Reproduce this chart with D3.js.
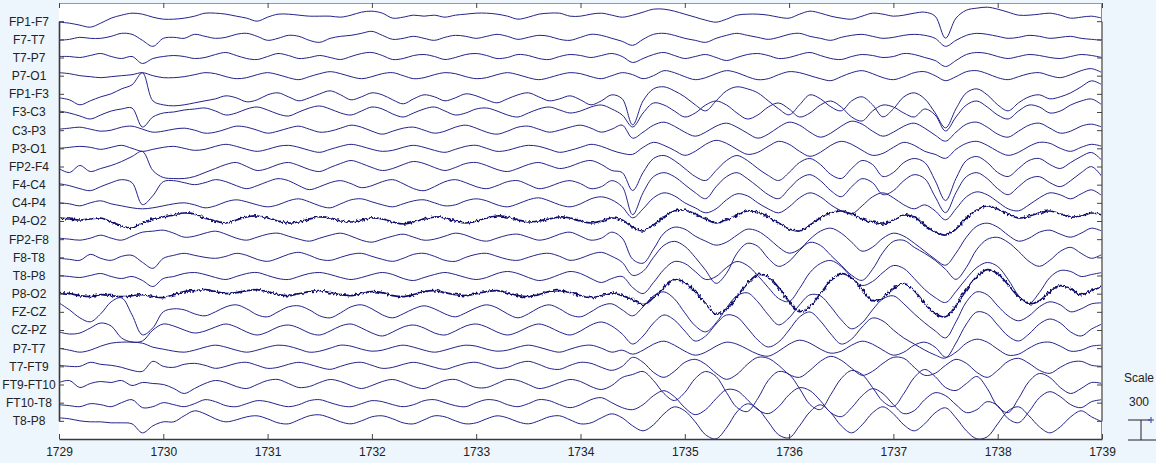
<!DOCTYPE html>
<html>
<head>
<meta charset="utf-8">
<script src="https://cdn.jsdelivr.net/npm/d3@7"></script>
<style>
  html, body { margin: 0; padding: 0; background: #edf5fd; }
  svg { display: block; }
  text { font-family: "Liberation Sans", Arial, sans-serif; fill: #222; }
</style>
</head>
<body>
<svg id="chart" width="1156" height="463"></svg>
<script>
// Montage labels, top to bottom
const channelNames = ["FP1-F7","F7-T7","T7-P7","P7-O1","FP1-F3","F3-C3","C3-P3","P3-O1",
  "FP2-F4","F4-C4","C4-P4","P4-O2","FP2-F8","F8-T8","T8-P8","P8-O2","FZ-CZ","CZ-PZ",
  "P7-T7","T7-FT9","FT9-FT10","FT10-T8","T8-P8"];

// Time axis (seconds)
const secondTicks = [1729,1730,1731,1732,1733,1734,1735,1736,1737,1738,1739];
const startTime = 1729;
const samplesPerSecond = 10;

// Amplitude scale reference (µV)
const scaleValue = 300;

// Traces in µV, 10 samples per second
const fp1_f7 = [-15,-30,-60,-90,-30,45,90,120,105,60, 30,30,45,75,120,120,105,75,45,0, 60,105,105,90,75,75,75,60,90,135, 150,120,45,60,90,75,90,60,90,105, 120,120,105,75,30,60,105,120,120,75, 75,105,120,90,60,90,135,180,180,150, 105,60,15,-15,30,90,105,105,90,60, 45,105,150,120,75,45,30,75,120,105, 75,90,120,135,75,-255,45,165,195,210, 180,135,90,90,105,120,90,45,60,75, 45];
const f7_t7 = [-15,0,30,15,15,45,90,75,-15,-105, 15,30,15,75,45,15,30,75,90,45, -15,15,60,45,-15,-45,15,45,60,90, 120,60,0,15,45,15,-15,30,60,45, 15,45,75,45,0,30,60,45,0,-15, 30,75,60,15,-30,-90,0,75,90,60, 15,-15,-45,15,60,90,60,30,0,30, 75,90,45,15,-15,30,60,75,45,15, 30,60,75,60,15,-105,-15,60,90,75, 45,15,30,60,45,15,30,45,15,0, -15];
const t7_p7 = [15,15,0,30,60,15,-15,15,-90,-15, 15,30,15,-15,0,45,75,30,-15,-30, 15,60,30,-15,0,30,0,-30,15,60, 75,30,-30,-15,30,45,15,-30,0,45, 60,30,-15,0,45,30,-15,-30,15,45, 30,0,30,60,15,-75,-15,45,75,30, -15,15,45,0,-45,0,45,60,30,-15, 0,45,75,30,-15,-30,15,45,30,0, 15,60,45,0,-45,-135,-45,45,75,60, 15,-15,15,45,30,0,-15,15,45,30, 0];
const p7_o1 = [45,30,0,-15,-30,-15,0,15,45,0, -30,-30,-15,15,45,30,-15,-45,-30,15, 45,15,-30,-60,-15,30,60,30,-15,-45, -15,30,45,0,-45,-30,15,45,30,-15, -45,-30,15,45,15,-30,-60,-30,15,45, 30,-15,-45,0,45,15,-45,0,75,45, -15,-60,-30,30,75,45,-15,-60,-45,15, 60,45,0,-45,-75,-15,45,75,30,-30, -60,-15,45,60,0,-75,-15,60,75,30, -30,-60,-15,30,45,0,-30,15,75,105, 45];
const fp1_f3 = [-60,-90,-165,-105,-45,0,75,135,315,-105, -165,-180,-165,-135,-105,-75,-30,-60,-120,-90, -15,15,-45,-105,-60,0,45,-15,-90,-45, 15,-15,-90,-150,-75,-15,-45,-105,-60,0, -30,-90,-135,-75,-15,15,-45,-105,-75,-30, -90,-165,-105,-15,-75,-465,-105,75,105,45, -45,-165,-255,-105,45,105,75,15,-105,-225, -315,-165,-15,-75,-195,-255,-105,-45,-165,-345, -225,-45,15,-75,-285,-510,-225,15,75,-15, -165,-255,-135,-45,-15,-75,-45,15,105,195, 135];
const f3_c3 = [15,-15,-60,-105,-45,15,45,60,-225,-75, -15,0,30,45,60,15,-45,-15,45,75, 30,-30,-60,0,60,90,45,-15,-45,15, 75,45,-30,-75,-15,45,75,15,-45,-15, 45,60,15,-45,-75,-15,45,75,30,-15, 15,75,105,45,-45,-225,-15,135,105,15, -75,-15,105,165,105,-15,-105,-45,75,135, 45,-75,-15,105,165,75,-75,-135,15,105, 75,-15,-75,45,-45,-285,-75,105,165,75, -45,-105,15,105,75,-15,15,105,165,195, 105];
const c3_p3 = [15,30,45,15,-15,0,45,60,15,-30, -15,15,30,0,-45,-30,15,60,45,0, -45,-15,30,60,15,-30,-15,30,75,45, -15,-60,-15,30,45,0,-45,-15,45,75, 30,-30,-60,-15,45,60,15,-30,0,45, 75,30,-30,15,75, -120,-30,75,120,60, -30,-90,-30,60,105, 45,-45,-120,-60,45, 120,75,-30,-105,-45, 60,135,90,-15,-90, -30,60,105,30,-75, -165,-30,90,120,45, -60,-105,-15,75,105, 30,-45,-15,60,90, 45];
const p3_o1 = [0,15,30,15,-15,15,45,0,-45,-15, 15,30,0,-30,-15,30,60,30,-15,-45, -15,30,45,15,-30,-60,-15,30,60,30, -15,-45,-30,15,45,15,-30,-60,-15,30, 45,0,-45,-30,15,45,30,-15,-60,-30, 15,60,30,-30,-75, -90,15,90,45,-30, -105,-45,60,120,75, -15,-90,-60,30,105, 60,-45,-120,-60,45, 105,60,-30,-105,-75, 15,90,45,-45,-90, -150,-15,75,105,45, -45,-105,-60,30,90, 75,0,-45,15,60, 30];
const fp2_f4 = [-30,-90,15,-75,-30,15,75,150,225,-60, -165,-180,-180,-150,-90,-30,30,60,0,-60, -30,30,60,15,-45,-75,-15,45,90,45, -15,-60,-30,30,75,45,-15,-60,-15,45, 60,15,-45,-75,-30,30,60,15,-30,0, 60,90,30,-60,-90,-360,-90,120,165,90, -30,-150,-210,-60,90,165,90,-30,-135,-210, -90,60,120,30,-120,-180,-30,90,30,-150, -90,60,120,60,-210,-510,-180,90,150,60, -90,-150,-30,90,120,30,-30,60,150,210, 90];
const f4_c4 = [15,-15,-60,-90,-30,30,75,30,-300,-165, 45,60,30,0,30,75,45,-15,-60,-15, 45,90,60,-15,-75,-30,30,60,15,-45, -15,45,75,15,-60,-90,-30,45,75,30, -30,-60,-15,45,60,0,-60,-30,30,60, 15,-60,-30,60,-30,-450,-120,120,180,120, 0,-120,-210,-30,120,180,90,-30,-150,-210, -60,90,150,60,-90,-180,-30,90,30,-150, -90,60,150,90,-180,-420,-120,120,180,90, -60,-150,-30,90,120,30,-30,60,180,270, 120];
const c4_p4 = [0,-15,-45,0,30,-15,-45,-75,-90,-75, -45,-15,0,-30,-75,-45,15,45,15,-30, -60,-30,30,60,15,-45,-75,-15,45,60, 15,-30,-60,-15,30,45,0,-45,-30,30, 60,30,-30,-60,-15,45,75,30,-30,-60, -15,60,90,45,-60, -225,-90,75,150,105, 0,-75,-150,-90,45, 135,105,0,-90,-150, -60,75,150,90,-30, -120,-165,-45,90,150, 75,-30,-90,-30,-120, -255,-90,90,165,120, 15,-90,-120,-30,75, 150,120,60,135,195, 105];
const p4_o2 = [45,30,15,30,45,-15,-75,-105,-30,30, 60,90,120,105,45,0,-30,15,60,75, 45,0,-30,-15,30,60,45,0,-15,15, 45,30,-15,-45,-15,30,60,45,0,-30, 0,45,75,60,15,-15,0,30,60,45, 0,-30,0,45,15, -90,-150,-60,60,150, 165,105,30,-30,15, 90,150,135,60,-30, -120,-150,-60,45,120, 150,105,30,-15,-45, 15,90,60,-60,-165, -210,-120,45,165,225, 180,105,45,75,120, 150,105,60,75,120, 90];
const fp2_f8 = [15,0,-15,15,60,15,-15,45,105,120, 135,90,30,45,90,120,75,15,-15,30, 75,90,45,0,-30,15,60,90,45,-15, -45,0,45,75,30,-15,0,45,90,60, 0,-30,15,60,75,30,-15,15,75,105, 45,-15,15,105,15, -300,-360,-150,90,180, 150,45,-30,-90,-45, 60,150,120,15,-120, -210,-150,0,120,165, 90,-45,-180,-120,15, 90,45,-60,-180,-300, -390,-210,30,195,240, 180,60,-30,15,105, 135,75,30,90,165, 120];
const f8_t8 = [-15,-30,-45,45,-15,-45,15,30,-75,-165, -15,30,60,30,0,-15,15,60,30,-30, -60,-15,45,75,30,-30,-45,0,45,60, 15,-30,-60,-15,45,60,15,-45,-60,0, 45,60,15,-30,-45,0,45,60,15,-45, -15,45,75,15,-75, -270,-210,0,180,240, 165,0,-195,-390,-240, 60,210,165,-15,-135, -60,105,225,180,30, -120,-270,-345,-180,75, 240,255,150,60,-45, -180,-330,-150,120,270, 300,225,90,-60,-135, -45,90,150,60,-15, 45];
const t8_p8 = [0,-15,-30,0,30,-15,-45,-15,-75,-165, -45,-15,30,45,15,-30,-60,-15,30,45, 0,-45,-60,-15,30,45,15,-30,-60,-30, 15,45,15,-45,-75,-30,15,45,15,-30, -60,-30,30,60,30,-30,-75,-45,15,60, 30,-45,-105,-45,-15, -180,-270,-105,90,210, 180,60,-60,-15,120, 210,150,0,-180,-345, -390,-195,45,180,225, 135,-30,-150,-90,45, 150,105,-45,-210,-330, -405,-240,-45,120,195, 135,-60,-300,-420,-255, -30,75,60,-15,15, 45];
const p8_o2 = [15,0,-30,-45,-15,-30,-45,-30,-15,-45, -60,-15,30,45,60,30,0,15,45,60, 30,-15,-30,0,30,45,15,-15,-30,0, 30,15,-30,-45,-15,30,45,15,-15,-30, 0,30,45,15,-30,-45,-15,30,45,15, -30,-60,-30,15,-30, -90,-165,-60,90,210, 165,30,-150,-300,-240, -45,150,285,255,90, -120,-270,-195,0,195, 300,240,60,-105,-60, 75,150,45,-150,-300, -345,-180,60,255,360, 300,135,-45,-150,-105, 30,120,75,-15,45, 105];
const fz_cz = [135,30,-90,-150,-30,150,210,-45,-345,-240, 0,45,30,-30,-60,0,75,105,45,-45, -75,0,75,90,30,-60,-90,-15,75,105, 45,-45,-90,-30,45,90,45,-30,-75,-15, 60,105,60,-30,-90,-30,60,105,45,-45, -75,0,90,120,30, -60,75,240,300,195, -15,-210,-300,-165,60, 240,285,150,-45,-195, -90,105,255,240,75, -120,-255,-165,30,195, 240,120,-30,-165,-285, -390,-150,150,300,255, 90,-60,-135,-60,75, 150,105,0,45,120, 135];
const cz_pz = [-30,-60,-45,30,105,60,-120,-180,-165,0, 90,60,0,-45,-15,45,90,45,-30,-75, -30,45,75,30,-45,-75,-15,60,90,30, -45,-90,-30,45,75,30,-45,-75,-15,60, 90,45,-30,-75,-30,45,90,45,-30,-75, -15,75,120,60,-60, -210,-90,105,225,150, -15,-165,-90,90,225, 195,30,-150,-255,-180, 0,195,270,135,-60, -210,-135,45,180,135, 0,-120,-210,-300,-375, -420,-195,90,270,240, 75,-90,-165,-60,90, 165,105,-30,-90,15, 90];
const p7_t7 = [0,-30,-60,-30,30,75,90,90,75,15, -15,-45,-60,-30,15,45,15,-30,-60,-30, 15,45,30,-15,-60,-45,0,45,30,-15, -45,-30,15,45,15,-30,-60,-30,15,45, 30,-15,-45,-30,15,45,15,-30,-60,-15, 30,45,0,-60,-30, -90,-30,60,105,45, -45,-105,-60,30,90, 60,-15,-90,-120,-45, 60,120,75,-15,-75, -45,45,105,60,-30, -105,-60,45,90,15, -135,-60,75,135,90, -15,-105,-90,0,75, 90,30,-45,-30,30, 45];
const t7_ft9 = [15,0,0,60,30,15,-15,-60,-75,75, 0,-15,30,45,15,-30,0,45,60,15, -30,-15,30,60,30,-15,-45,0,45,60, 15,-30,-15,30,60,30,-15,-45,0,45, 60,15,-30,-15,45,75,30,-30,-45,15, 60,45,-15,-60,0, 135,60,-90,-165,-75, 60,105,30,-105,-195, -120,30,135,120,15, -120,-165,-60,75,150, 90,-30,-135,-75,45, 135,120,-15,-135,-105, 15,105,45,-90,-165, -60,75,120,45,-60, -105,-15,60,75,15, 0];
const ft9_ft10 = [30,60,-45,15,45,30,60,-15,30,15, 0,-60,-135,-60,15,60,30,-30,-60,0, 60,75,15,-45,-30,30,75,45,-15,-60, -15,45,75,30,-30,-60,0,60,75,15, -45,-45,15,75,60,0,-60,-30,30,75, 45,-30,-75,-15,105, 150,195,60,-135,-240, -120,90,195,120,-120, -345,-405,-210,60,195, 150,-60,-300,-375,-150, 90,210,150,-45,-255, -330,-135,105,225,120, -45,-90,15,120,-60, -330,-420,-210,45,165, 105,-45,-135,-60,30, 15];
const ft10_t8 = [-30,-45,-60,-15,-30,-60,0,45,-75,-60, 0,-30,-60,-15,45,15,-45,-60,-15,30, 15,-30,-60,-30,30,45,0,-45,-60,-15, 30,15,-30,-60,-30,30,45,0,-45,-60, 0,45,30,-30,-60,-15,45,30,-30,-75, -30,45,75,0,-75, -105,-30,105,180,90, -75,-180,-105,60,195, 180,45,-105,-165,-60, 120,225,180,30,-150, -210,-75,105,210,135, -30,-165,-120,45,150, 105,-30,-150,-105,15, -45,-240,-300,-135,75, 165,90,-30,-75,15, 45];
const t8_p8_b = [45,30,0,-15,-15,-30,-30,-45,-180,-75, -15,-15,75,150,105,30,-15,15,60,75, 30,-30,-45,15,75,90,45,-15,-45,0, 60,75,30,-30,-45,15,75,60,0,-45, -30,30,75,45,-15,-45,0,60,75,15, -45,-30,45,105,45, -75,-150,-60,105,210, 150,-15,-210,-270,-105, 135,255,180,-15,-210, -255,-75,135,240,120, -75,-180,-60,120,210, 105,-60,-150,-45,120, 195,45,-150,-270,-240, -45,150,210,75,-90, -180,-90,60,150,60, -15];

const traces = [fp1_f7, f7_t7, t7_p7, p7_o1, fp1_f3, f3_c3, c3_p3, p3_o1,
  fp2_f4, f4_c4, c4_p4, p4_o2, fp2_f8, f8_t8, t8_p8, p8_o2, fz_cz, cz_pz,
  p7_t7, t7_ft9, ft9_ft10, ft10_t8, t8_p8_b];

// Channels recorded with visible high-frequency artefact
const noisyChannels = new Set([11, 15]);

const svg = d3.select("#chart");
const plot = { left: 59, right: 1102, top: 3, bottom: 439 };
const rowStep = (plot.bottom - plot.top) / (channelNames.length + 1);

const x = d3.scaleLinear().domain([secondTicks[0], secondTicks[secondTicks.length - 1]])
  .range([plot.left, plot.right]);
const rows = d3.scalePoint().domain(d3.range(channelNames.length))
  .range([plot.top + rowStep, plot.bottom - rowStep]);
const amp = d3.scaleLinear().domain([0, scaleValue]).range([0, -20]);

// Fuzzy rendering for the artefact-laden derivations
const defs = svg.append("defs");
const fuzz = defs.append("filter").attr("id", "fuzz")
  .attr("filterUnits", "userSpaceOnUse")
  .attr("x", plot.left - 10).attr("y", plot.top - 10)
  .attr("width", plot.right - plot.left + 20).attr("height", plot.bottom - plot.top + 20);
fuzz.append("feTurbulence").attr("type", "fractalNoise")
  .attr("baseFrequency", "0.55 0.25").attr("numOctaves", 1).attr("seed", 3).attr("result", "n");
fuzz.append("feDisplacementMap").attr("in", "SourceGraphic").attr("in2", "n")
  .attr("scale", 4.5).attr("xChannelSelector", "R").attr("yChannelSelector", "G");

// Plot background
svg.append("rect")
  .attr("x", plot.left).attr("y", plot.top)
  .attr("width", plot.right - plot.left).attr("height", plot.bottom - plot.top)
  .attr("fill", "#ffffff");

defs.append("clipPath").attr("id", "plot-clip")
  .append("rect")
  .attr("x", plot.left + 1).attr("y", plot.top + 1)
  .attr("width", plot.right - plot.left - 1).attr("height", plot.bottom - plot.top - 1);

// Traces
const traceLayer = svg.append("g").attr("clip-path", "url(#plot-clip)");
traces.forEach((values, ch) => {
  const base = rows(ch);
  const noisy = noisyChannels.has(ch);
  const line = d3.line()
    .x((v, i) => x(startTime + i / samplesPerSecond))
    .y(v => base + amp(v))
    .curve(d3.curveCatmullRom.alpha(0.5));
  const holder = noisy ? traceLayer.append("g").attr("filter", "url(#fuzz)") : traceLayer;
  holder.append("path")
    .datum(values)
    .attr("d", line)
    .attr("fill", "none")
    .attr("stroke", noisy ? "#0e0e6c" : "#22228a")
    .attr("stroke-width", noisy ? 1.7 : 1)
    .attr("stroke-linejoin", "round");
});

// Frame: darker left/bottom edges, lighter top/right edges
svg.append("line").attr("x1", plot.left).attr("x2", plot.right)
  .attr("y1", plot.top + 0.5).attr("y2", plot.top + 0.5).attr("stroke", "#9a9a9a");
svg.append("line").attr("x1", plot.right - 0.5).attr("x2", plot.right - 0.5)
  .attr("y1", plot.top).attr("y2", plot.bottom).attr("stroke", "#8a8a8a");

// Axes with inward ticks
const bottomAxis = d3.axisBottom(x).tickValues(secondTicks).tickFormat(d3.format("d"))
  .tickSizeInner(-5).tickSizeOuter(0).tickPadding(8);
const topAxis = d3.axisTop(x).tickValues(secondTicks).tickFormat("")
  .tickSizeInner(-5).tickSizeOuter(0);
const leftAxis = d3.axisLeft(rows).tickFormat(i => channelNames[i])
  .tickSizeInner(-5).tickSizeOuter(0).tickPadding(0);
const rightAxis = d3.axisRight(rows).tickFormat("")
  .tickSizeInner(-5).tickSizeOuter(0);

function styleAxis(g, domainColor) {
  g.select(".domain").attr("stroke", domainColor);
  g.selectAll(".tick line").attr("stroke", "#444");
  g.selectAll("text").attr("fill", "#222").style("font-size", "12px")
    .style("font-family", "'Liberation Sans', Arial, sans-serif");
}

svg.append("g").attr("transform", `translate(0,${plot.top})`).call(topAxis)
  .call(g => styleAxis(g, "#9a9a9a"));
svg.append("g").attr("transform", `translate(${plot.right},0)`).call(rightAxis)
  .call(g => styleAxis(g, "#8a8a8a"));
svg.append("g").attr("transform", `translate(0,${plot.bottom})`).call(bottomAxis)
  .call(g => styleAxis(g, "#3a3a3a"))
  .call(g => g.select(".domain").attr("stroke-width", 1.4));
svg.append("g").attr("transform", `translate(${plot.left},0)`).call(leftAxis)
  .call(g => styleAxis(g, "#3a3a3a"))
  .call(g => g.select(".domain").attr("stroke-width", 1.6))
  .call(g => g.selectAll("text").attr("text-anchor", "middle").attr("x", -30));

// Amplitude scale bar
const barX = 1141, barBottom = 440;
const barTop = barBottom + amp(scaleValue);
const scaleG = svg.append("g");
scaleG.append("text").attr("x", barX - 2).attr("y", 382).attr("text-anchor", "middle")
  .style("font-size", "12px").text("Scale");
scaleG.append("text").attr("x", barX - 2).attr("y", 406).attr("text-anchor", "middle")
  .style("font-size", "12px").text(String(scaleValue));
scaleG.append("line").attr("x1", 1128).attr("x2", 1150).attr("y1", barTop).attr("y2", barTop)
  .attr("stroke", "#222");
scaleG.append("line").attr("x1", 1128).attr("x2", 1156).attr("y1", barBottom).attr("y2", barBottom)
  .attr("stroke", "#222");
scaleG.append("line").attr("x1", barX).attr("x2", barX).attr("y1", barTop).attr("y2", barBottom)
  .attr("stroke", "#222");
// small cursor cross at the bar's upper end
scaleG.append("path")
  .attr("d", `M1148,${barTop}h6M1151,${barTop - 3}v6`)
  .attr("stroke", "#2a3d9a").attr("stroke-width", 1);
</script>
</body>
</html>
